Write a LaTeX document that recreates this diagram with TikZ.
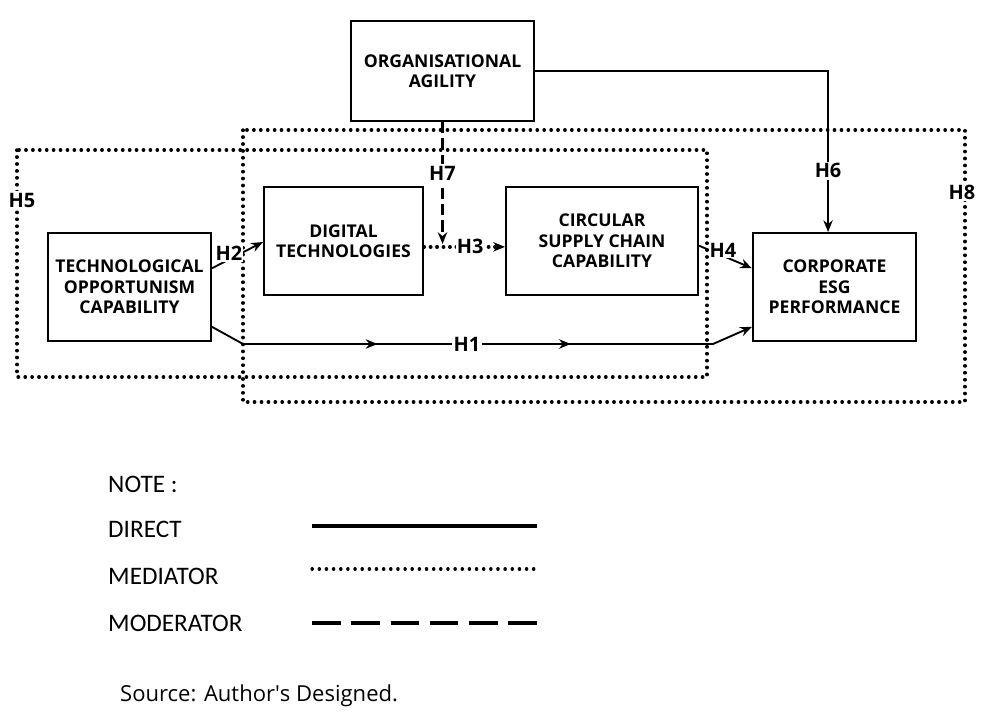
\documentclass[tikz,border=0pt]{standalone}
\usepackage{fontspec}
\setmainfont{Open Sans}
\newfontfamily\legendfont{Carlito}
\newfontfamily\sourcefont{Open Sans}
\usetikzlibrary{arrows.meta,decorations.markings,calc}

\begin{document}
\begin{tikzpicture}[x=0.03cm,y=-0.03cm,
  construct/.style={draw, line width=1.7pt, fill=white, align=center,
    font=\bfseries\fontsize{15}{17.5}\selectfont, inner sep=0pt},
  hlabel/.style={font=\bfseries\fontsize{17}{17}\selectfont, fill=white, inner sep=1.5pt},
  tip/.style={-{Stealth[length=10pt,width=8pt]}},
  link/.style={line width=1.6pt, tip},
  boundary/.style={line width=2.9pt, line cap=round, dash pattern=on 0.3pt off 5.6pt},
  mediate/.style={line width=3pt, line cap=round, dash pattern=on 0.3pt off 5.2pt},
  moderate/.style={line width=2pt, dash pattern=on 9.5pt off 4.5pt},
  legendtext/.style={font=\legendfont\fontsize{21.5}{21.5}\selectfont, anchor=base west, inner sep=0pt}
]
\useasboundingbox[fill=white] (0,0) rectangle (1002,722);

% hypothesis boundaries
\draw[boundary] (17,150) rectangle (707,377);
\draw[boundary] (243,130) rectangle (965,402);
\node[hlabel] (h5) at (22,200) {H5};
\node[hlabel] (h8) at (962,192) {H8};

% constructs
\node[construct, minimum width=5.49cm, minimum height=3.0cm] (OA) at (442.5,71) {ORGANISATIONAL\\AGILITY};
\node[construct, minimum width=4.77cm, minimum height=3.24cm] (DT) at (343.5,241) {DIGITAL\\TECHNOLOGIES};
\node[construct, minimum width=5.76cm, minimum height=3.24cm] (CSC) at (602,241) {CIRCULAR\\SUPPLY CHAIN\\CAPABILITY};
\node[construct, minimum width=4.89cm, minimum height=3.24cm] (TOC) at (129.5,287) {TECHNOLOGICAL\\OPPORTUNISM\\CAPABILITY};
\node[construct, minimum width=4.89cm, minimum height=3.24cm] (CORP) at (834.5,287) {CORPORATE\\ESG\\PERFORMANCE};

% helper points
\coordinate (h1a) at (243,344);
\coordinate (h1b) at (713,344);
\coordinate (h7end) at (442.5,244);

% H1: direct path with two mid arrows
\draw[line width=1.6pt,
  decoration={markings,
    mark=at position 145pt with {\arrow{Stealth[length=10pt,width=8pt]}},
    mark=at position 310pt with {\arrow{Stealth[length=10pt,width=8pt]}}},
  postaction={decorate}, tip]
  ([yshift=-34pt]TOC.east) -- (h1a) -- (h1b) -- ([yshift=-34pt]CORP.west);
\node[hlabel] (h1) at (467,344) {H1};

% H2
\draw[link] ([yshift=16pt]TOC.east) -- node[hlabel, pos=0.33, yshift=5pt, inner sep=0.5pt] {H2} (DT.west |- 0,242);

% H3 mediator
\draw[mediate, tip] ([yshift=-5pt]DT.east) -- node[hlabel, inner sep=1pt, pos=0.57] {H3} ([yshift=-5pt]CSC.west);

% H4
\draw[link] ([yshift=-4pt]CSC.east) -- node[hlabel, inner sep=0.5pt, pos=0.45, yshift=5pt] {H4} ([yshift=16pt]CORP.west);

% H6
\draw[line width=1.1pt, tip] (OA.east |- 0,71) -| node[hlabel, pos=0.81] {H6} ([xshift=-5.5pt]CORP.north);

% H7 moderator
\draw[moderate, tip] (OA.south) -- node[hlabel, pos=0.42] {H7} (h7end);

% legend
\node[legendtext] (note) at (108,492) {NOTE :};
\node[legendtext] (ldirect) at (108,537) {DIRECT};
\node[legendtext] (lmed) at (108,584) {MEDIATOR};
\node[legendtext] (lmod) at (108,631) {MODERATOR};
\coordinate (d1) at (312,526);  \coordinate (d2) at (537,526);
\coordinate (m1) at (312,569);  \coordinate (m2) at (537,569);
\coordinate (o1) at (312,623);  \coordinate (o2) at (537,623);
\draw[line width=2.6pt] (d1) -- (d2);
\draw[line width=2.7pt, line cap=round, dash pattern=on 0.3pt off 5.8pt] (m1) -- (m2);
\draw[line width=2.9pt, dash pattern=on 24.5pt off 9pt] (o1) -- (o2);

\node[font=\sourcefont\fontsize{18.8}{18.8}\selectfont, anchor=base west, inner sep=0pt] (src) at (120,701) {Source: Author\textquotesingle s Designed.};
\end{tikzpicture}
\end{document}
